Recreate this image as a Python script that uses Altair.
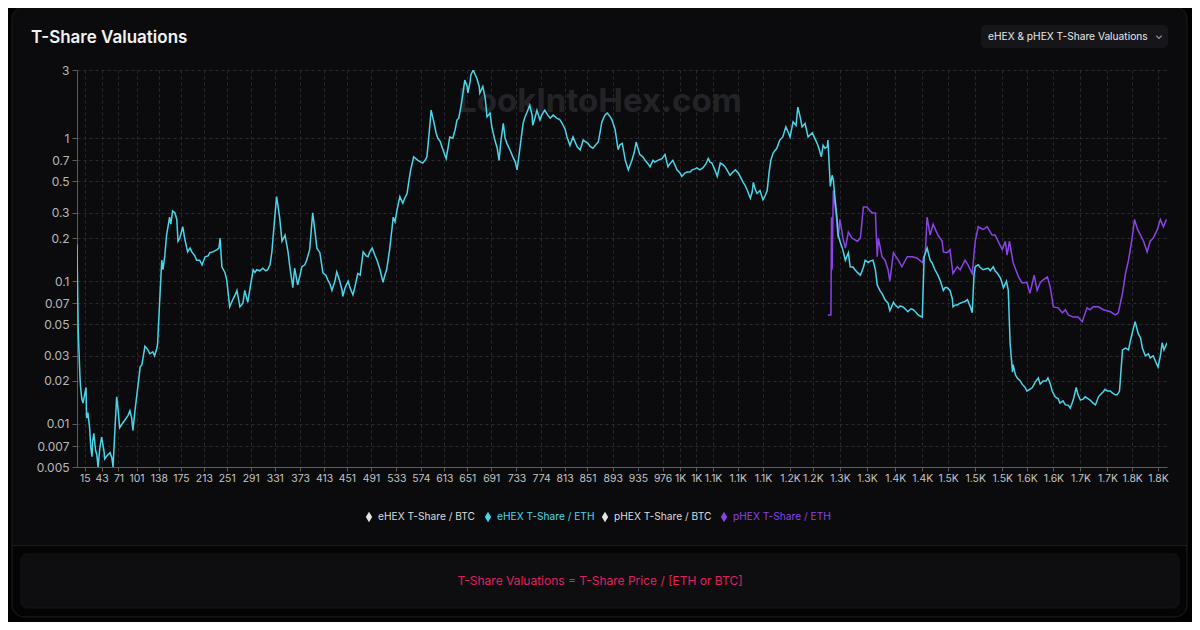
import altair as alt
import pandas as pd

SERIES = ["eHEX T-Share / BTC", "eHEX T-Share / ETH", "pHEX T-Share / BTC", "pHEX T-Share / ETH"]
COLORS = ["#e4e4e4", "#4ad6ea", "#e4e4e4", "#8a43e6"]
LABEL_COLORS = ["#dcdcdc", "#4ad6ea", "#dcdcdc", "#8a43e6"]

# eHEX T-Share / ETH  (day, value)
E_DAYS = [
    2, 4, 7, 8, 10, 12, 17, 18, 20, 23,
    25, 27, 28, 30, 33, 35, 37, 40, 43, 47,
    48, 52, 57, 60, 62, 65, 68, 70, 73, 77,
    82, 87, 90, 93, 95, 98, 102, 105, 107, 110,
    115, 120, 123, 128, 131, 135, 136, 140, 143, 145,
    148, 151, 156, 158, 161, 165, 168, 170, 173, 178,
    181, 186, 190, 193, 198, 201, 206, 210, 215, 220,
    223, 228, 235, 238, 240, 243, 248, 251, 256, 261,
    265, 268, 273, 278, 281, 286, 290, 295, 298, 301,
    306, 311, 316, 319, 323, 326, 331, 334, 338, 339,
    343, 348, 353, 356, 361, 364, 369, 373, 376, 381,
    384, 389, 394, 398, 401, 406, 411, 416, 419, 423,
    426, 431, 434, 439, 443, 444, 448, 453, 456, 461,
    464, 469, 473, 478, 483, 486, 489, 493, 498, 501,
    506, 511, 514, 517, 522, 528, 531, 534, 539, 544,
    547, 551, 554, 557, 562, 569, 574, 577, 581, 584,
    587, 591, 596, 599, 602, 606, 609, 612, 616, 619,
    622, 627, 631, 634, 637, 641, 644, 647, 651, 652,
    656, 657, 661, 664, 667, 671, 672, 677, 681, 684,
    689, 692, 697, 701, 704, 707, 711, 714, 717, 722,
    727, 731, 734, 737, 739, 744, 747, 750, 755, 759,
    760, 764, 767, 772, 775, 780, 785, 789, 794, 800,
    805, 809, 814, 817, 822, 827, 830, 834, 839, 844,
    847, 852, 855, 860, 865, 869, 872, 875, 880, 884,
    889, 892, 897, 902, 905, 909, 914, 919, 925, 929,
    932, 935, 938, 943, 947, 952, 955, 960, 963, 968,
    975, 980, 985, 988, 993, 1000, 1005, 1008, 1013, 1017,
    1022, 1025, 1030, 1033, 1038, 1043, 1048, 1052, 1055, 1058,
    1063, 1067, 1072, 1077, 1080, 1085, 1088, 1093, 1097, 1102,
    1105, 1110, 1113, 1117, 1122, 1125, 1127, 1130, 1133, 1138,
    1143, 1147, 1150, 1153, 1156, 1160, 1166, 1171, 1176, 1181,
    1185, 1188, 1193, 1198, 1201, 1205, 1208, 1213, 1218, 1225,
    1230, 1233, 1236, 1240, 1243, 1246, 1250, 1251, 1255, 1258,
    1260, 1263, 1266, 1268, 1271, 1275, 1280, 1285, 1288, 1293,
    1296, 1300, 1305, 1310, 1313, 1318, 1321, 1326, 1330, 1333,
    1338, 1341, 1346, 1351, 1354, 1360, 1363, 1368, 1371, 1376,
    1381, 1384, 1389, 1393, 1398, 1401, 1404, 1408, 1411, 1416,
    1421, 1424, 1429, 1434, 1438, 1443, 1446, 1449, 1454, 1458,
    1459, 1463, 1466, 1471, 1474, 1479, 1483, 1488, 1491, 1494,
    1496, 1501, 1504, 1509, 1514, 1518, 1521, 1526, 1529, 1533,
    1538, 1543, 1548, 1551, 1554, 1558, 1559, 1563, 1566, 1571,
    1574, 1579, 1582, 1587, 1591, 1596, 1601, 1604, 1609, 1614,
    1617, 1621, 1624, 1629, 1634, 1637, 1642, 1646, 1651, 1654,
    1659, 1664, 1667, 1671, 1676, 1679, 1684, 1687, 1692, 1696,
    1701, 1704, 1709, 1712, 1716, 1721, 1724, 1729, 1732, 1736,
    1741, 1746, 1751, 1754, 1757, 1762, 1767, 1771, 1774, 1779,
    1784, 1787, 1792, 1795, 1800, 1804, 1807, 1810, 1815,
]
E_VALS = [
    0.18, 0.045, 0.021, 0.018, 0.015, 0.014, 0.018, 0.011, 0.012, 0.0094,
    0.0068, 0.0059, 0.0075, 0.0086, 0.0065, 0.0061, 0.005, 0.0068, 0.0081, 0.0064,
    0.0057, 0.006, 0.0063, 0.0058, 0.005, 0.009, 0.0155, 0.013, 0.0094, 0.010,
    0.0107, 0.0115, 0.0124, 0.011, 0.009, 0.012, 0.0165, 0.021, 0.025, 0.026,
    0.035, 0.033, 0.031, 0.032, 0.030, 0.034, 0.036, 0.08, 0.14, 0.12,
    0.15, 0.21, 0.28, 0.25, 0.31, 0.30, 0.27, 0.19, 0.20, 0.24,
    0.20, 0.16, 0.17, 0.16, 0.15, 0.14, 0.14, 0.13, 0.148, 0.15,
    0.158, 0.16, 0.166, 0.17, 0.20, 0.126, 0.115, 0.102, 0.066, 0.074,
    0.08, 0.086, 0.066, 0.07, 0.086, 0.071, 0.09, 0.12, 0.115, 0.12,
    0.118, 0.123, 0.118, 0.12, 0.13, 0.158, 0.28, 0.39, 0.30, 0.28,
    0.19, 0.21, 0.16, 0.126, 0.09, 0.123, 0.094, 0.11, 0.126, 0.13,
    0.14, 0.166, 0.30, 0.22, 0.17, 0.158, 0.114, 0.11, 0.102, 0.095,
    0.086, 0.10, 0.116, 0.10, 0.086, 0.078, 0.09, 0.10, 0.09, 0.080,
    0.09, 0.113, 0.11, 0.16, 0.15, 0.148, 0.16, 0.17, 0.15, 0.14,
    0.12, 0.098, 0.11, 0.12, 0.166, 0.28, 0.26, 0.31, 0.39, 0.35,
    0.38, 0.41, 0.50, 0.60, 0.74, 0.70, 0.68, 0.67, 0.70, 0.74,
    1.0, 1.57, 1.27, 1.1, 1.0, 0.95, 0.87, 0.80, 0.72, 0.85,
    1.02, 1.0, 1.15, 1.34, 1.38, 1.7, 2.07, 2.55, 2.3, 2.07,
    2.5, 2.76, 3.0, 2.8, 2.63, 2.3, 2.07, 2.30, 1.9, 1.41,
    1.50, 1.2, 0.97, 0.85, 0.70, 0.95, 1.27, 1.0, 0.92, 0.83,
    0.74, 0.68, 0.60, 0.75, 0.87, 1.27, 1.4, 1.50, 1.70, 1.45,
    1.23, 1.40, 1.57, 1.34, 1.45, 1.57, 1.45, 1.38, 1.45, 1.38,
    1.35, 1.27, 1.15, 1.02, 0.89, 1.02, 0.95, 0.87, 0.83, 0.97,
    0.95, 0.92, 0.88, 0.85, 0.90, 0.94, 1.10, 1.30, 1.45, 1.50,
    1.41, 1.34, 1.15, 0.83, 0.90, 0.92, 0.70, 0.60, 0.70, 0.80,
    0.94, 0.85, 0.77, 0.74, 0.70, 0.66, 0.63, 0.70, 0.68, 0.70,
    0.72, 0.77, 0.63, 0.66, 0.70, 0.60, 0.57, 0.54, 0.57, 0.58,
    0.58, 0.60, 0.61, 0.62, 0.60, 0.62, 0.66, 0.72, 0.68, 0.67,
    0.60, 0.54, 0.67, 0.65, 0.63, 0.58, 0.55, 0.58, 0.60, 0.57,
    0.54, 0.49, 0.47, 0.43, 0.38, 0.42, 0.49, 0.44, 0.41, 0.43,
    0.37, 0.40, 0.43, 0.57, 0.70, 0.79, 0.85, 0.97, 1.02, 1.20,
    1.10, 1.02, 1.30, 1.23, 1.65, 1.40, 1.20, 1.27, 1.02, 1.09,
    0.98, 0.92, 0.85, 0.74, 0.89, 0.85, 0.87, 0.97, 0.46, 0.55,
    0.51, 0.37, 0.28, 0.21, 0.19, 0.17, 0.14, 0.158, 0.126, 0.125,
    0.12, 0.115, 0.11, 0.125, 0.14, 0.135, 0.138, 0.14, 0.12, 0.094,
    0.085, 0.082, 0.074, 0.070, 0.062, 0.071, 0.068, 0.065, 0.067, 0.066,
    0.063, 0.061, 0.064, 0.063, 0.060, 0.058, 0.057, 0.056, 0.148, 0.17,
    0.14, 0.135, 0.12, 0.11, 0.10, 0.086, 0.09, 0.09, 0.086, 0.075,
    0.066, 0.068, 0.068, 0.070, 0.071, 0.072, 0.074, 0.066, 0.060, 0.11,
    0.126, 0.13, 0.125, 0.12, 0.122, 0.123, 0.118, 0.126, 0.118, 0.113,
    0.105, 0.090, 0.10, 0.086, 0.037, 0.023, 0.026, 0.022, 0.021, 0.020,
    0.019, 0.018, 0.017, 0.0175, 0.018, 0.0197, 0.021, 0.019, 0.020, 0.020,
    0.021, 0.019, 0.017, 0.0155, 0.015, 0.014, 0.0145, 0.0136, 0.0135, 0.0129,
    0.0147, 0.018, 0.016, 0.0147, 0.015, 0.0155, 0.015, 0.0147, 0.014, 0.0136,
    0.0155, 0.016, 0.0168, 0.0175, 0.017, 0.017, 0.0165, 0.016, 0.016, 0.017,
    0.033, 0.034, 0.033, 0.038, 0.043, 0.052, 0.043, 0.040, 0.034, 0.030,
    0.031, 0.029, 0.030, 0.028, 0.025, 0.030, 0.037, 0.033, 0.037,
]

# pHEX T-Share / ETH  (day, value)
P_DAYS = [
    1251, 1256, 1257, 1258, 1260, 1265, 1268, 1271, 1276, 1280,
    1285, 1291, 1300, 1305, 1310, 1316, 1321, 1325, 1330, 1333,
    1335, 1341, 1346, 1351, 1354, 1360, 1368, 1374, 1383, 1391,
    1399, 1408, 1413, 1416, 1421, 1426, 1434, 1441, 1443, 1449,
    1454, 1459, 1466, 1471, 1479, 1484, 1491, 1496, 1501, 1509,
    1516, 1524, 1529, 1534, 1541, 1546, 1549, 1553, 1559, 1568,
    1574, 1582, 1587, 1594, 1599, 1604, 1609, 1616, 1621, 1626,
    1634, 1641, 1646, 1651, 1659, 1667, 1674, 1682, 1687, 1692,
    1701, 1709, 1721, 1729, 1734, 1741, 1746, 1751, 1757, 1761,
    1766, 1771, 1776, 1782, 1787, 1792, 1799, 1804, 1809, 1814,
]
P_VALS = [
    0.058, 0.058, 0.28, 0.12, 0.43, 0.28, 0.20, 0.27, 0.20, 0.17,
    0.22, 0.20, 0.19, 0.20, 0.33, 0.33, 0.31, 0.30, 0.30, 0.148,
    0.20, 0.148, 0.14, 0.12, 0.10, 0.158, 0.14, 0.126, 0.148, 0.148,
    0.145, 0.135, 0.158, 0.28, 0.21, 0.25, 0.21, 0.19, 0.16, 0.158,
    0.166, 0.113, 0.126, 0.12, 0.14, 0.13, 0.113, 0.19, 0.24, 0.23,
    0.24, 0.21, 0.21, 0.19, 0.166, 0.19, 0.152, 0.19, 0.135, 0.107,
    0.097, 0.098, 0.082, 0.11, 0.086, 0.097, 0.102, 0.107, 0.09, 0.066,
    0.065, 0.060, 0.063, 0.058, 0.056, 0.056, 0.052, 0.065, 0.063, 0.066,
    0.066, 0.063, 0.061, 0.058, 0.060, 0.082, 0.113, 0.14, 0.20, 0.27,
    0.23, 0.21, 0.19, 0.16, 0.19, 0.20, 0.23, 0.27, 0.24, 0.27,
]

X_TICKS = [15, 43, 71, 101, 138, 175, 213, 251, 291, 331, 373, 413, 451, 491, 533,
           574, 613, 651, 691, 733, 774, 813, 851, 893, 935, 976, 1005, 1032, 1060,
           1101, 1143, 1188, 1226, 1271, 1316, 1363, 1408, 1451, 1496, 1541, 1582,
           1626, 1671, 1716, 1757, 1800]
X_LABELS = ["15", "43", "71", "101", "138", "175", "213", "251", "291", "331", "373",
            "413", "451", "491", "533", "574", "613", "651", "691", "733", "774", "813",
            "851", "893", "935", "976", "1K", "1K", "1.1K", "1.1K", "1.1K", "1.2K", "1.2K",
            "1.3K", "1.3K", "1.4K", "1.4K", "1.5K", "1.5K", "1.5K", "1.6K", "1.6K", "1.7K",
            "1.7K", "1.8K", "1.8K"]
Y_TICKS = [0.005, 0.007, 0.01, 0.02, 0.03, 0.05, 0.07, 0.1, 0.2, 0.3, 0.5, 0.7, 1, 3]

TITLE = "T-Share Valuations"
DROPDOWN = "eHEX & pHEX T-Share Valuations"
WATERMARK = "LookIntoHex.com"
FOOTER = "T-Share Valuations = T-Share Price / [ETH or BTC]"

df = pd.concat([
    pd.DataFrame({"day": E_DAYS, "value": E_VALS, "series": SERIES[1]}),
    pd.DataFrame({"day": P_DAYS, "value": P_VALS, "series": SERIES[3]}),
], ignore_index=True)

FONT = "Inter"
days_js = "[" + ",".join(str(d) for d in X_TICKS) + "]"
labels_js = "[" + ",".join("'" + s + "'" for s in X_LABELS) + "]"
x_label_expr = labels_js + "[indexof(" + days_js + ", datum.value)]"

x_enc = alt.X(
    "day:Q",
    scale=alt.Scale(domain=[2, 1815], nice=False, zero=False),
    axis=alt.Axis(values=X_TICKS, labelExpr=x_label_expr, title=None,
                  labelFontSize=10.4, labelColor="#c4c4c4", labelFont=FONT,
                  labelOverlap=False, labelFlush=False, labelPadding=2,
                  tickColor="#5c5c5c", domainColor="#5c5c5c", tickSize=4,
                  grid=True, gridColor="#2a2a2f", gridDash=[3, 3], gridWidth=1),
)
y_enc = alt.Y(
    "value:Q",
    scale=alt.Scale(type="log", domain=[0.005, 3], nice=False),
    axis=alt.Axis(values=Y_TICKS, format="~g", title=None,
                  labelFontSize=12, labelColor="#b8b8b8", labelFont=FONT,
                  labelOverlap=False, labelFlush=False, labelPadding=3,
                  tickColor="#5c5c5c", domainColor="#5c5c5c", tickSize=5,
                  grid=True, gridColor="#2a2a2f", gridDash=[3, 3], gridWidth=1),
)
color_enc = alt.Color("series:N", scale=alt.Scale(domain=SERIES, range=COLORS), legend=None)

base = alt.Chart(df)
line_p = base.transform_filter(alt.datum.series == SERIES[3]).mark_line(
    strokeWidth=1.5, clip=True).encode(x=x_enc, y=y_enc, color=color_enc)
line_e = base.transform_filter(alt.datum.series == SERIES[1]).mark_line(
    strokeWidth=1.5, clip=True).encode(x=x_enc, y=y_enc, color=color_enc)

dummy = pd.DataFrame({"k": [0]})


def rect(x1, x2, y1, y2, **kw):
    return alt.Chart(dummy).mark_rect(**kw).encode(
        x=alt.value(x1), x2=alt.value(x2), y=alt.value(y1), y2=alt.value(y2))


def text(x, y, s, **kw):
    return alt.Chart(dummy).mark_text(text=s, font=FONT, **kw).encode(
        x=alt.value(x), y=alt.value(y))


DIAMOND = "M0,-1L0.6,0L0,1L-0.6,0Z"

# legend: one diamond + label per series, laid out in one centred row
legend_layers = []
LEG_SYMBOL_X = [292, 411, 528, 647]
LEG_Y = 447
for name, sym_color, lab_color, sx in zip(SERIES, COLORS, LABEL_COLORS, LEG_SYMBOL_X):
    legend_layers.append(
        alt.Chart(dummy).mark_point(shape=DIAMOND, filled=True, size=110, opacity=1,
                                    fill=sym_color, strokeWidth=0).encode(
            x=alt.value(sx), y=alt.value(LEG_Y)))
    legend_layers.append(
        text(sx + 9, LEG_Y, name, fontSize=10.2, color=lab_color, align="left",
             baseline="middle"))

# plot origin in page coordinates is (77, 70)
outer_frame = rect(-85, 1130, -83, 567, fill="#000000", fillOpacity=0, stroke="#000000",
                   strokeWidth=40, cornerRadius=32)
lower_section = rect(-64, 1109, 476, 546, fill="#040405",
                     cornerRadiusBottomLeft=11, cornerRadiusBottomRight=11)
card_border = rect(-65, 1110, -63, 547, fill="#000000", fillOpacity=0, stroke="#1c1c20",
                   strokeWidth=1, cornerRadius=12)
separator = alt.Chart(dummy).mark_rule(color="#1c1c20", strokeWidth=1).encode(
    x=alt.value(-65), x2=alt.value(1110), y=alt.value(475.5))
footer_box = rect(-56, 1102, 484, 538, fill="#0e0e11", stroke="#141418", strokeWidth=1,
                  cornerRadius=6)
footer_text = text(523, 511, FOOTER, fontSize=12, color="#e0215f", align="center",
                   baseline="middle")
title = text(-46, -27, TITLE, fontSize=17, fontWeight=600, color="#f2f2f2",
             align="left", baseline="alphabetic")
dropdown_box = rect(904, 1091, -45, -22, fill="#16161a", cornerRadius=5)
dropdown_text = text(911, -33, DROPDOWN, fontSize=10.2, fontWeight=400, color="#e8e8e8",
                     align="left", baseline="middle")
chevron = alt.Chart(dummy).mark_point(shape="M-1,-0.5L0,0.5L1,-0.5", filled=False,
                                      stroke="#d0d0d0", strokeWidth=1.2, size=30).encode(
    x=alt.value(1082), y=alt.value(-33))
watermark = text(523, 32, WATERMARK, fontSize=33, fontWeight="bold", color="#232327",
                 align="center", baseline="middle")

chart = alt.layer(
    outer_frame, lower_section, card_border, separator, footer_box, footer_text,
    title, dropdown_box, dropdown_text, chevron, watermark,
    line_p, line_e, *legend_layers,
).properties(
    width=1090, height=397,
    padding={"left": 69, "top": 62, "right": 25, "bottom": 155},
    autosize=alt.AutoSizeParams(type="none"),
).configure(
    background="#0b0b0d", font=FONT,
).configure_view(stroke=None)

chart.save("out.html", embed_options={"renderer": "svg", "actions": False})
